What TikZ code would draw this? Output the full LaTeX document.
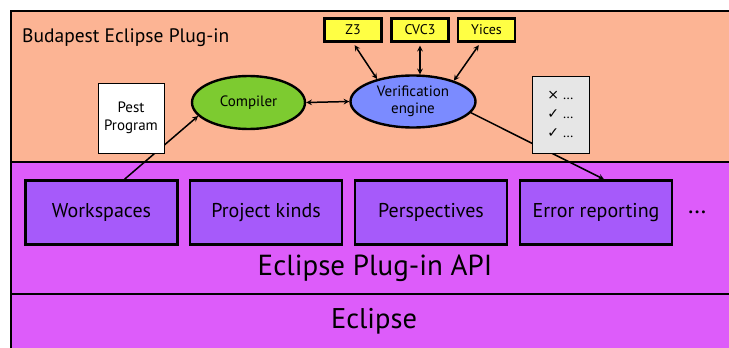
\documentclass[tikz,border=0pt]{standalone}
\usepackage{fontspec}
\setmainfont{PT Sans}
\newfontfamily\symfont{DejaVu Sans}
\usetikzlibrary{shapes.geometric}
\definecolor{pluginorange}{HTML}{FCB494}
\definecolor{apimagenta}{HTML}{DD5CFA}
\definecolor{apipurple}{HTML}{A65AFA}
\definecolor{solveryellow}{HTML}{FFFF44}
\definecolor{engineblue}{HTML}{7B8BFF}
\definecolor{compilergreen}{HTML}{7DCB30}
\definecolor{listgrey}{HTML}{E6E6E6}

\tikzset{
  solver/.style={draw, line width=2.4pt, fill=solveryellow, minimum width=57pt, minimum height=23pt, font=\fontsize{14}{16}\selectfont},
  apibox/.style={draw, line width=2.4pt, fill=apipurple, minimum width=152pt, minimum height=64pt, font=\fontsize{20}{24}\selectfont},
  bubble/.style={draw, line width=2.4pt, ellipse, inner sep=0pt, font=\fontsize{15}{16}\selectfont, align=center},
  link/.style={<->, >=stealth, line width=1.5pt},
  flow/.style={->, >=stealth, line width=1.5pt},
}

\begin{document}
\begin{tikzpicture}[x=1pt, y=-1pt]
        \useasboundingbox (0,0) rectangle (729,348);
        \clip (0,0) rectangle (729,348);

        % Layers
        \draw[line width=2.4pt, fill=pluginorange] (11,11) rectangle (745,360);
        \node[anchor=base west, inner sep=0pt, font=\fontsize{19.5}{22}\selectfont] (title) at (22,42) {Budapest Eclipse Plug-in};
        \draw[line width=2.4pt, fill=apimagenta] (11,162) rectangle (745,294);
        \draw[line width=2.4pt, fill=apimagenta] (11,294) rectangle (745,360);
        \node[font=\fontsize{29}{32}\selectfont] (api) at (375,268) {Eclipse Plug-in API};
        \node[font=\fontsize{28.5}{32}\selectfont] (eclipse) at (374,321) {Eclipse};

        % Plug-in API parts
        \node[apibox] (ws) at (101.5,212.5) {Workspaces};
        \node[apibox] (pk) at (266,212.5) {Project kinds};
        \node[apibox] (ps) at (431,212.5) {Perspectives};
        \node[apibox] (er) at (596,212.5) {Error reporting};
        \node[font=\fontsize{25}{26}\selectfont] (more) at (697,212) {\dots};

        % Tools of the plug-in
        \node[bubble, fill=compilergreen, minimum width=113pt, minimum height=53pt] (comp) at (248.5,102.5) {Compiler};
        \node[bubble, fill=engineblue, minimum width=125pt, minimum height=52pt, font=\fontsize{15}{17}\selectfont] (ve) at (413,101.5) {Verification\\engine};

        % Solvers
        \node[solver] (z3) at (353,30) {Z3};
        \node[solver] (cvc) at (420,30) {CVC3};
        \node[solver] (yi) at (486.5,30) {Yices};

        % Arrows
        \draw[link, shorten <=3pt] (z3.south) -- (ve.148);
        \draw[link, shorten <=3pt] (cvc.south) -- (cvc.south |- ve.north);
        \draw[link, shorten <=3pt] ([xshift=-6pt]yi.south) -- (ve.27);
        \draw[link] (comp.east) -- (ve.west);
        \draw[flow] ([xshift=23pt]ws.north) -- (comp.195);
        \draw[flow] (ve.-11) -- ([xshift=8pt]er.north);

        % Input program and results
        \node[draw, line width=1pt, fill=white, minimum width=66pt, minimum height=70pt, align=center, font=\fontsize{15}{18}\selectfont] (pest) at (131,118) {Pest\\Program};
        \node[draw, line width=1pt, fill=listgrey, minimum width=57pt, minimum height=77pt, align=left, font=\fontsize{14}{19}\selectfont] (res) at (560.5,114.5) {{\symfont\fontsize{14}{19}\selectfont ×} \dots\\{\symfont ✓} \dots\\{\symfont ✓} \dots};
      \end{tikzpicture}
\end{document}
